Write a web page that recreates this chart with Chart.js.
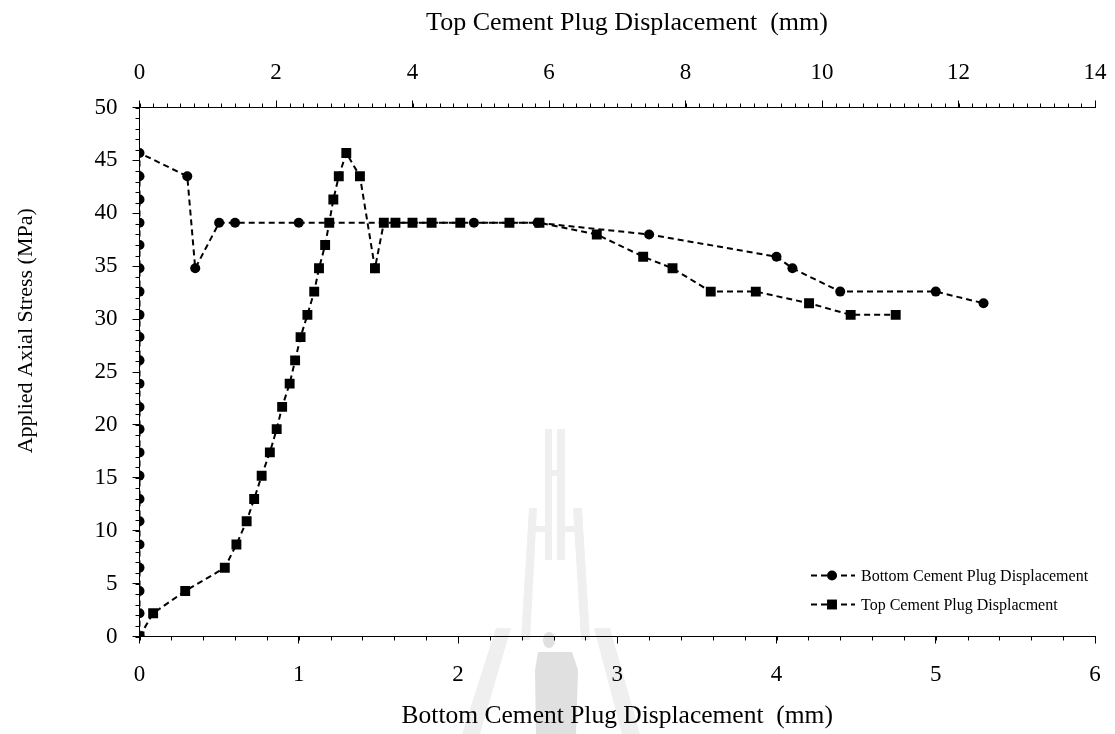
<!DOCTYPE html>
<html>
<head>
<meta charset="utf-8">
<title>Applied Axial Stress vs Cement Plug Displacement</title>
<script src="https://cdn.jsdelivr.net/npm/chart.js@4.4.1/dist/chart.umd.min.js"></script>
<style>
  html, body { margin: 0; padding: 0; background: #fff; }
  #wrap { width: 1115px; height: 734px; position: relative; }
</style>
</head>
<body>
<div id="wrap"><canvas id="stressChart"></canvas></div>
<script>
// ================= DATA =================
// bottom plug: displacement (mm, bottom axis) and applied stress (MPa)
const bottomDisp = [0, 0, 0, 0, 0, 0, 0, 0, 0, 0, 0, 0, 0, 0, 0, 0, 0, 0, 0, 0, 0, 0,
    0.30, 0.35, 0.50, 0.60, 1.00, 2.10, 2.50, 3.20, 4.00, 4.10, 4.40, 5.00, 5.30];
const bottomStress = [0, 2.2, 4.3, 6.5, 8.7, 10.9, 13.0, 15.2, 17.4, 19.6, 21.7, 23.9, 26.1, 28.3, 30.4, 32.6, 34.8, 37.0, 39.1, 41.3, 43.5, 45.7,
    43.5, 34.8, 39.1, 39.1, 39.1, 39.1, 39.1, 38.0, 35.9, 34.8, 32.6, 32.6, 31.5];

// top plug: displacement (mm, top axis) and applied stress (MPa)
const topDisp = [0, 0.20, 0.67, 1.25, 1.42, 1.57, 1.68, 1.79, 1.91, 2.01, 2.09, 2.20, 2.28, 2.36, 2.46, 2.56, 2.63, 2.72, 2.78, 2.84, 2.92, 3.03,
    3.23, 3.45, 3.58, 3.75, 4.00, 4.28, 4.70, 5.42, 5.86, 6.70, 7.38, 7.81, 8.37, 9.03, 9.81, 10.42, 11.08];
const topStress = [0, 2.2, 4.3, 6.5, 8.7, 10.9, 13.0, 15.2, 17.4, 19.6, 21.7, 23.9, 26.1, 28.3, 30.4, 32.6, 34.8, 37.0, 39.1, 41.3, 43.5, 45.7,
    43.5, 34.8, 39.1, 39.1, 39.1, 39.1, 39.1, 39.1, 39.1, 38.0, 35.9, 34.8, 32.6, 32.6, 31.5, 30.4, 30.4];

const seriesLabels = ["Bottom Cement Plug Displacement", "Top Cement Plug Displacment"];

// axis ranges / tick steps
const bottomAxisRange = [0, 6];
const topAxisRange = [0, 14];
const stressRange = [0, 50];
const majorSteps = { x: 1, x2: 2, y: 5 };
const minorSteps = { x: 0.2, x2: 0.2, y: 1 };

const FONT = '"Liberation Serif", "Times New Roman", serif';

function toPoints(xs, ys) {
    return xs.map((x, i) => ({ x: x, y: ys[i] }));
}

// ================= PLUGINS =================

// faint campus logo behind the plot
const watermark = {
    id: 'watermark',
    beforeDraw(chart) {
        const ctx = chart.ctx;
        ctx.save();
        ctx.fillStyle = '#efefef';
        const poly = pts => {
            ctx.beginPath();
            ctx.moveTo(pts[0][0], pts[0][1]);
            pts.slice(1).forEach(p => ctx.lineTo(p[0], p[1]));
            ctx.closePath();
            ctx.fill();
        };
        // spire
        ctx.fillRect(545, 429, 7, 131);
        ctx.fillRect(557, 429, 8, 131);
        ctx.fillRect(545, 470, 20, 6);
        // upper legs
        poly([[529, 508], [537, 508], [530, 640], [521, 640]]);
        poly([[573, 508], [582, 508], [590, 640], [581, 640]]);
        ctx.fillRect(529, 526, 16, 6);
        ctx.fillRect(565, 526, 16, 6);
        // lower ladders
        poly([[496, 628], [511, 628], [480, 734], [462, 734]]);
        poly([[594, 628], [610, 628], [640, 734], [622, 734]]);
        // figure
        ctx.fillStyle = '#e0e0e0';
        ctx.beginPath();
        ctx.ellipse(549, 640, 6, 8, 0, 0, Math.PI * 2);
        ctx.fill();
        poly([[538, 652], [572, 652], [578, 670], [576, 734], [536, 734], [535, 670]]);
        ctx.restore();
    }
};

// short minor ticks between the labelled ones
const minorTicks = {
    id: 'minorTicks',
    afterDraw(chart) {
        const ctx = chart.ctx;
        ctx.save();
        ctx.strokeStyle = '#000';
        ctx.lineWidth = 1;
        Object.keys(minorSteps).forEach(id => {
            const scale = chart.scales[id];
            const step = minorSteps[id];
            const n = Math.round((scale.max - scale.min) / step);
            ctx.beginPath();
            for (let i = 0; i <= n; i++) {
                const p = Math.round(scale.getPixelForValue(scale.min + i * step)) + 0.5;
                if (scale.position === 'bottom') {
                    ctx.moveTo(p, scale.top); ctx.lineTo(p, scale.top + 4);
                } else if (scale.position === 'top') {
                    ctx.moveTo(p, scale.bottom); ctx.lineTo(p, scale.bottom - 4);
                } else {
                    ctx.moveTo(scale.right, p); ctx.lineTo(scale.right - 4, p);
                }
            }
            ctx.stroke();
        });
        ctx.restore();
    }
};

// legend box inside the plot, bottom right: dashed sample with marker
const sampleLegend = {
    id: 'sampleLegend',
    afterDraw(chart) {
        const { ctx, chartArea } = chart;
        const x0 = chartArea.right - 284;
        let y = chartArea.bottom - 61;
        chart.data.datasets.forEach(ds => {
            ctx.save();
            ctx.strokeStyle = ds.borderColor;
            ctx.lineWidth = ds.borderWidth;
            ctx.setLineDash(ds.borderDash);
            ctx.beginPath();
            ctx.moveTo(x0, y);
            ctx.lineTo(x0 + 44, y);
            ctx.stroke();
            ctx.setLineDash([]);
            ctx.fillStyle = ds.pointBackgroundColor;
            const cx = x0 + 21;
            if (ds.pointStyle === 'rect') {
                const h = ds.pointRadius * Math.SQRT1_2;
                ctx.fillRect(cx - h, y - h, 2 * h, 2 * h);
            } else {
                ctx.beginPath();
                ctx.arc(cx, y, ds.pointRadius, 0, Math.PI * 2);
                ctx.fill();
            }
            ctx.fillStyle = '#000';
            ctx.font = '16px ' + FONT;
            ctx.textBaseline = 'middle';
            ctx.fillText(ds.label, x0 + 50, y + 1);
            ctx.restore();
            y += 29;
        });
    }
};

// ================= CHART =================

function axisCommon(step, tickPad) {
    return {
        grid: { drawOnChartArea: false, tickLength: 7, color: '#000', tickColor: '#000', tickWidth: 1 },
        border: { display: true, color: '#000', width: 1 },
        ticks: { stepSize: step, padding: tickPad, color: '#000', font: { family: FONT, size: 23 } }
    };
}

// end labels should not shrink the plot, the outer layout padding covers them
function noLabelPadding(scale) {
    scale.paddingLeft = 0;
    scale.paddingRight = 0;
}

const xBottom = axisCommon(majorSteps.x, 18);
Object.assign(xBottom, {
    type: 'linear', position: 'bottom', min: bottomAxisRange[0], max: bottomAxisRange[1],
    title: { display: true, text: 'Bottom Cement Plug Displacement  (mm)', color: '#000',
        font: { family: FONT, size: 25.5 }, padding: { top: 0, bottom: 2 } },
    afterFit(scale) { scale.height = 97.5; noLabelPadding(scale); }
});

const xTop = axisCommon(majorSteps.x2, 14);
Object.assign(xTop, {
    type: 'linear', position: 'top', min: topAxisRange[0], max: topAxisRange[1],
    title: { display: true, text: '   Top Cement Plug Displacement  (mm)', color: '#000',
        font: { family: FONT, size: 26 }, padding: { top: 8, bottom: 0 } },
    afterFit(scale) { scale.height = 107.5; noLabelPadding(scale); }
});

// leading spaces lift the rotated title toward the top of the axis
const yLeft = axisCommon(majorSteps.y, 15);
Object.assign(yLeft, {
    type: 'linear', position: 'left', min: stressRange[0], max: stressRange[1],
    title: { display: true, text: ' '.repeat(15) + 'Applied Axial Stress (MPa)', color: '#000',
        font: { family: FONT, size: 22 }, padding: { top: 13, bottom: 0 } },
    afterFit(scale) { scale.width = 139.5; }
});

const datasets = [
    {
        label: seriesLabels[0],
        data: toPoints(bottomDisp, bottomStress),
        xAxisID: 'x',
        yAxisID: 'y',
        pointStyle: 'circle',
        pointRadius: 5
    },
    {
        label: seriesLabels[1],
        data: toPoints(topDisp, topStress),
        xAxisID: 'x2',
        yAxisID: 'y',
        pointStyle: 'rect',
        pointRadius: 7
    }
].map(ds => Object.assign(ds, {
    showLine: true,
    borderColor: '#000',
    borderWidth: 2,
    borderDash: [6, 4],
    pointBackgroundColor: '#000',
    pointBorderColor: '#000',
    pointBorderWidth: 0,
    tension: 0
}));

new Chart(document.getElementById('stressChart'), {
    type: 'scatter',
    data: { datasets: datasets },
    options: {
        responsive: true,
        maintainAspectRatio: false,
        animation: false,
        layout: { padding: { left: 0, right: 20, top: 0, bottom: 0 } },
        plugins: { legend: { display: false }, tooltip: { enabled: false } },
        scales: { x: xBottom, x2: xTop, y: yLeft }
    },
    plugins: [watermark, minorTicks, sampleLegend]
});
</script>
</body>
</html>
